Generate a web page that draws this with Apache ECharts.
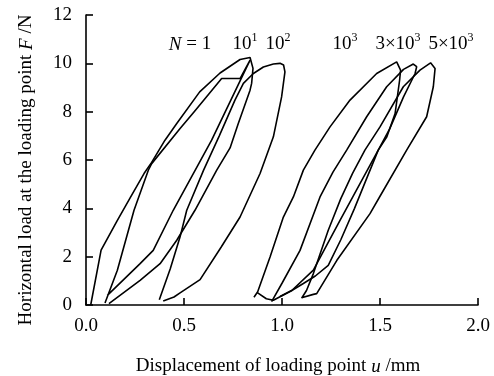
<!DOCTYPE html>
<html>
<head>
<meta charset="utf-8">
<script src="https://cdn.jsdelivr.net/npm/echarts@6/dist/echarts.min.js"></script>
<style>html,body{margin:0;padding:0;background:#fff;}#c{width:494px;height:376px;}</style>
</head>
<body>
<div id="c"></div>
<script>
// Axis settings
const xTicks = [0, 0.5, 1.0, 1.5, 2.0];
const yTicks = [0, 2, 4, 6, 8, 10, 12];

// Loop labels
const loopLabels = ['{i|N} = 1', '10{s|1}', '10{s|2}', '10{s|3}', '3×10{s|3}', '5×10{s|3}'];

// Hysteresis loops: [u (mm), F (N)]
const loopN1 = [[0.024,0],[0.077,2.27],[0.16,3.5],[0.228,4.47],[0.296,5.44],[0.335,5.9],[0.403,6.82],[0.463,7.51],[0.58,8.82],[0.684,9.6],[0.786,10.16],[0.837,10.24],[0.852,9.79],[0.845,9.17],[0.837,8.89],[0.777,7.51],[0.735,6.5],[0.667,5.58],[0.556,3.92],[0.463,2.68],[0.378,1.71],[0.276,1.02],[0.117,0.06]];
const loopN10 = [[0.097,0.08],[0.16,1.44],[0.245,3.92],[0.318,5.58],[0.335,5.85],[0.48,7.3],[0.551,7.99],[0.692,9.37],[0.786,9.37],[0.837,10.13],[0.739,8.48],[0.641,6.82],[0.445,3.92],[0.343,2.26],[0.276,1.71],[0.109,0.4]];
const loopN100 = [[0.374,0.22],[0.43,1.5],[0.48,2.82],[0.514,3.92],[0.6,5.58],[0.68,7.0],[0.76,8.48],[0.803,9.17],[0.854,9.58],[0.905,9.85],[0.956,9.97],[0.99,10.0],[1.008,9.93],[1.015,9.65],[0.998,8.61],[0.956,6.96],[0.888,5.44],[0.786,3.64],[0.69,2.4],[0.582,1.05],[0.48,0.5],[0.449,0.33],[0.394,0.17]];
const loopN1000 = [[0.857,0.32],[0.876,0.55],[0.939,1.99],[1.007,3.64],[1.058,4.47],[1.109,5.58],[1.168,6.41],[1.245,7.37],[1.347,8.48],[1.483,9.58],[1.585,10.06],[1.605,9.72],[1.6,9.3],[1.577,7.92],[1.535,6.96],[1.491,6.41],[1.4,5.05],[1.296,3.5],[1.16,1.44],[1.05,0.6],[0.956,0.2],[0.92,0.26],[0.876,0.5]];
const loopN3000 = [[0.947,0.14],[1.0,0.9],[1.092,2.26],[1.194,4.47],[1.26,5.5],[1.33,6.41],[1.432,7.79],[1.534,9.03],[1.62,9.75],[1.67,9.97],[1.687,9.86],[1.679,9.58],[1.62,8.61],[1.55,7.3],[1.491,6.41],[1.43,5.2],[1.37,4.0],[1.3,2.7],[1.236,1.64],[1.17,1.2],[1.109,0.89],[1.05,0.6],[0.99,0.35]];
const loopN5000 = [[1.1,0.28],[1.125,0.6],[1.16,1.3],[1.236,3.09],[1.3,4.4],[1.36,5.45],[1.423,6.41],[1.5,7.37],[1.619,9.03],[1.704,9.72],[1.758,10.02],[1.781,9.79],[1.772,9.03],[1.738,7.79],[1.636,6.41],[1.5,4.5],[1.449,3.78],[1.28,1.85],[1.177,0.47],[1.16,0.44],[1.1,0.3]];

const loops = [loopN1, loopN10, loopN100, loopN1000, loopN3000, loopN5000];

const chart = echarts.init(document.getElementById('c'), null, {renderer: 'canvas'});
const serif = 'Liberation Serif, Times New Roman, serif';
const labelX = [190, 245, 278, 345, 398, 451];
const richStyle = {
  b: {fontFamily: serif, fontSize: 19, color: '#000', lineHeight: 22, verticalAlign: 'bottom'},
  i: {fontFamily: serif, fontSize: 19, color: '#000', fontStyle: 'italic', lineHeight: 22, verticalAlign: 'bottom'},
  s: {fontFamily: serif, fontSize: 12, color: '#000', lineHeight: 14, verticalAlign: 'top'}
};
function wrapB(t){
  return t.replace(/(^|\})([^{}]+)(?=\{|$)/g, function(m, p, txt){ return p + '{b|' + txt + '}'; });
}
const option = {
  animation: false,
  backgroundColor: '#fff',
  grid: {left: 86, right: 16, top: 15, bottom: 71, containLabel: false, outerBoundsMode: 'none'},
  xAxis: {
    type: 'value', min: 0, max: 2, interval: 0.5,
    name: 'Displacement of loading point {i|u} /mm',
    nameLocation: 'middle', nameGap: 52,
    nameTextStyle: {fontFamily: serif, fontSize: 19, color: '#000', padding: [0, 8, 0, 0],
      rich: {i: {fontFamily: serif, fontSize: 19, fontStyle: 'italic', color: '#000'}}},
    axisLine: {lineStyle: {color: '#000', width: 1.6}},
    axisTick: {inside: true, length: 7, lineStyle: {color: '#000', width: 1.6}},
    axisLabel: {fontFamily: serif, fontSize: 19, color: '#000', margin: 12, formatter: v => v.toFixed(1)},
    splitLine: {show: false}
  },
  yAxis: {
    type: 'value', min: 0, max: 12, interval: 2,
    name: 'Horizontal load at the loading point {i|F} /N',
    nameLocation: 'middle', nameGap: 50, nameRotate: 90,
    nameTextStyle: {fontFamily: serif, fontSize: 19, color: '#000', padding: [0, 20, 0, 0],
      rich: {i: {fontFamily: serif, fontSize: 19, fontStyle: 'italic', color: '#000'}}},
    axisLine: {show: true, lineStyle: {color: '#000', width: 1.6}},
    axisTick: {show: true, inside: true, length: 7, lineStyle: {color: '#000', width: 1.6}},
    axisLabel: {fontFamily: serif, fontSize: 19, color: '#000', margin: 14},
    splitLine: {show: false}
  },
  series: loops.map(d => ({
    type: 'line', data: d, showSymbol: false, symbol: 'none', smooth: false,
    lineStyle: {color: '#000', width: 1.6}, silent: true
  })),
  graphic: loopLabels.map((t, k) => ({
    type: 'text', x: labelX[k], y: 43,
    style: {text: wrapB(t), rich: richStyle, align: 'center', verticalAlign: 'middle'}
  }))
};
chart.setOption(option);
</script>
</body>
</html>
